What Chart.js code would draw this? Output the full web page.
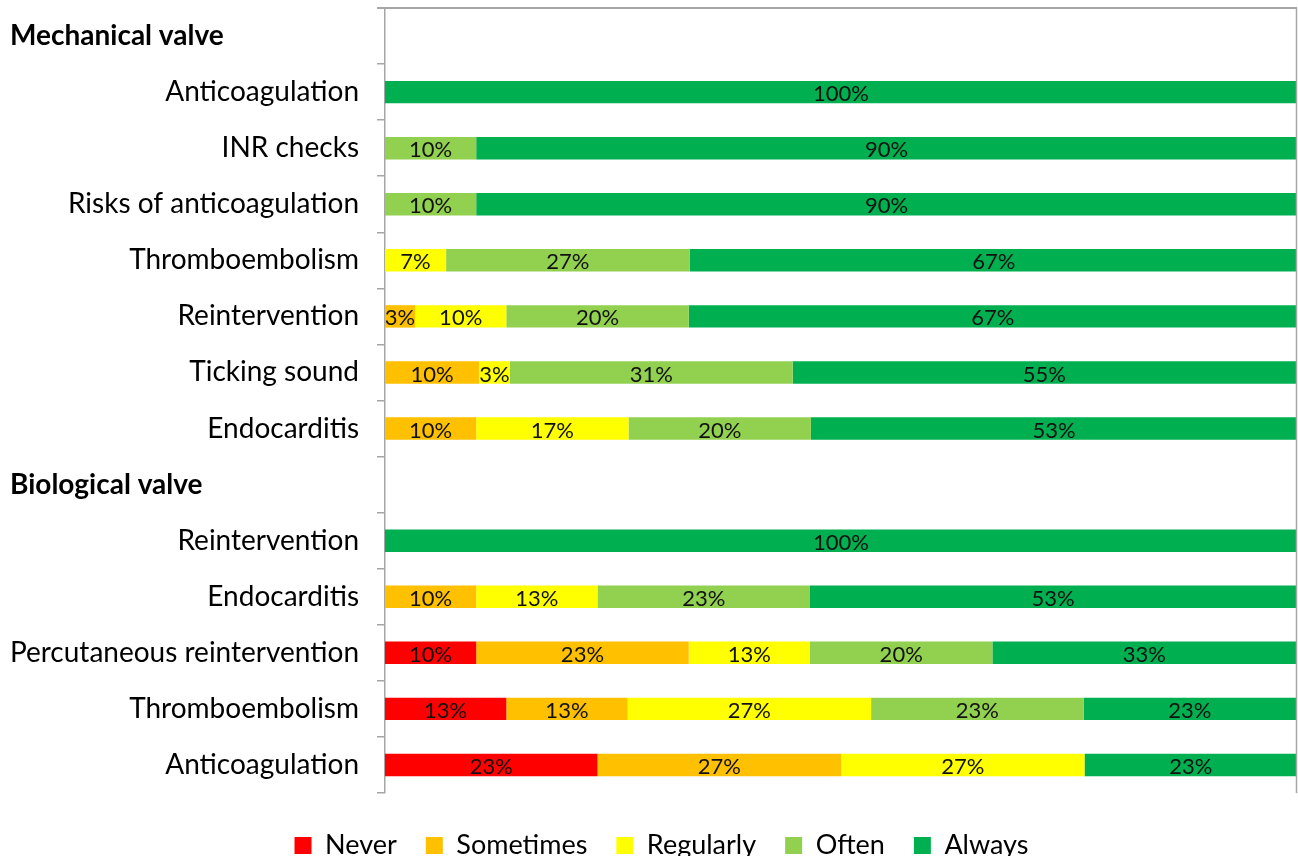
<!DOCTYPE html><html><head><meta charset="utf-8"><title>Valve counselling topics</title>
<script src="https://cdn.jsdelivr.net/npm/chart.js"></script>
<style>
  body { margin: 0; background: #ffffff; }
  .wrap { position: relative; width: 1298px; height: 856px; }
</style>
</head>
<body>
<div class="wrap"><canvas id="valveChart"></canvas></div>
<script>
// rows, top to bottom; the two group headings sit in their own empty rows
const categories = ["Mechanical valve", "Anticoagulation", "INR checks", "Risks of anticoagulation", "Thromboembolism", "Reintervention", "Ticking sound", "Endocarditis",
  "Biological valve", "Reintervention", "Endocarditis", "Percutaneous reintervention", "Thromboembolism", "Anticoagulation"];
const headerRows = [0, 8];

const seriesNames = ["Never", "Sometimes", "Regularly", "Often", "Always"];
const seriesColors = ["#ff0000", "#ffc000", "#ffff00", "#92d050", "#00b050"];

// percent of answers
const never     = [null, 0, 0, 0, 0, 0, 0, 0,       null, 0, 0, 10, 13.3, 23.3];
const sometimes = [null, 0, 0, 0, 0, 3.3, 10.3, 10, null, 0, 10, 23.3, 13.3, 26.7];
const regularly = [null, 0, 0, 0, 6.7, 10, 3.4, 16.7, null, 0, 13.3, 13.3, 26.7, 26.7];
const often     = [null, 0, 10, 10, 26.7, 20, 31, 20, null, 0, 23.3, 20, 23.3, 0];
const always    = [null, 100, 90, 90, 66.7, 66.7, 55.2, 53.3, null, 100, 53.3, 33.3, 23.3, 23.3];
const seriesValues = [never, sometimes, regularly, often, always];

const FONT = "Lato, 'Open Sans', sans-serif";
const axisGrey = "#a6a6a6";

const extras = {
  id: "extras",
  afterLayout(chart) {
    // the legend in the original sits a bit right of centre
    chart.legend.left += 13;
    chart.legend.right += 13;
  },
  afterDatasetsDraw(chart) {
    const ctx = chart.ctx;
    ctx.save();
    ctx.font = "22px " + FONT;
    ctx.fillStyle = "#111111";
    ctx.textAlign = "center";
    ctx.textBaseline = "middle";
    chart.data.datasets.forEach((ds, i) => {
      chart.getDatasetMeta(i).data.forEach((bar, j) => {
        const v = ds.data[j];
        if (!v) return;
        ctx.fillText(Math.round(v) + "%", (bar.x + bar.base) / 2, bar.y + 2);
      });
    });
    ctx.restore();
  },
  afterDraw(chart) {
    const ctx = chart.ctx;
    const a = chart.chartArea;
    ctx.save();
    // frame line along top and right
    ctx.strokeStyle = axisGrey;
    ctx.lineWidth = 2;
    ctx.beginPath();
    ctx.moveTo(a.left - 8, a.top);
    ctx.lineTo(a.right, a.top);
    ctx.stroke();
    ctx.lineWidth = 1.5;
    ctx.beginPath();
    ctx.moveTo(a.right - 0.5, a.top);
    ctx.lineTo(a.right - 0.5, a.bottom);
    ctx.stroke();
    // group headings
    ctx.font = "bold 28px " + FONT;
    ctx.fillStyle = "#000000";
    ctx.textAlign = "left";
    ctx.textBaseline = "middle";
    headerRows.forEach(r => {
      ctx.fillText(categories[r], 10, chart.scales.y.getPixelForValue(r));
    });
    ctx.restore();
  }
};

new Chart(document.getElementById("valveChart"), {
  type: "bar",
  data: {
    labels: categories,
    datasets: seriesNames.map((name, i) => ({
      label: name,
      data: seriesValues[i],
      backgroundColor: seriesColors[i],
      borderWidth: 0,
      barPercentage: 0.4,
      categoryPercentage: 1
    }))
  },
  options: {
    indexAxis: "y",
    responsive: true,
    maintainAspectRatio: false,
    animation: false,
    layout: { padding: { left: 0, right: 1, top: 8, bottom: -13 } },
    scales: {
      x: {
        stacked: true,
        min: 0,
        max: 100,
        position: "bottom",
        ticks: { display: false },
        grid: { display: false },
        border: { display: false },
        afterFit: s => { s.height = 10; s.paddingLeft = 0; s.paddingRight = 0; }
      },
      y: {
        stacked: true,
        ticks: {
          color: "#000000",
          font: { family: FONT, size: 28 },
          padding: 18,
          callback: function (v, i) { return headerRows.includes(i) ? "" : this.getLabelForValue(v); }
        },
        grid: { offset: true, drawOnChartArea: false, drawTicks: true, tickLength: 8, color: axisGrey, lineWidth: 1.5 },
        border: { display: true, color: axisGrey, width: 1.5 },
        afterFit: s => { s.width = 385; s.paddingTop = 0; s.paddingBottom = 0; }
      }
    },
    plugins: {
      legend: {
        position: "bottom",
        labels: {
          boxWidth: 17,
          boxHeight: 17,
          padding: 29,
          color: "#000000",
          font: { family: FONT, size: 27 }
        }
      },
      tooltip: { enabled: false }
    }
  },
  plugins: [extras]
});
</script>
</body></html>
